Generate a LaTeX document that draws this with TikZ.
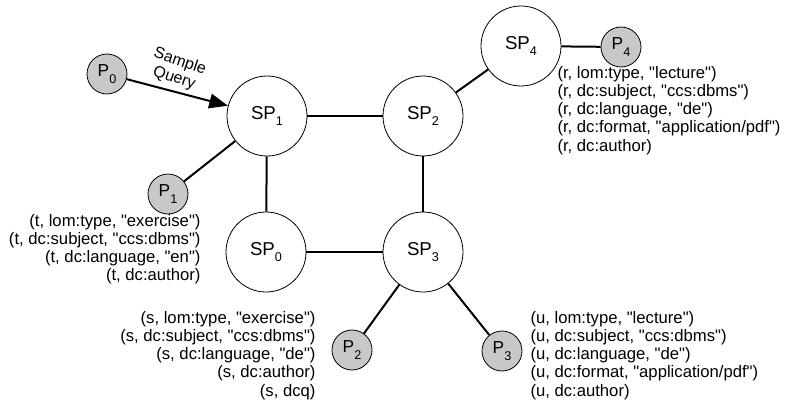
\documentclass[tikz,border=0pt]{standalone}
\usepackage{fontspec}
\setmainfont{Liberation Sans}
\newfontfamily\arialfont{Liberation Sans}
\usetikzlibrary{arrows.meta}
\definecolor{peerfill}{RGB}{200,200,200}
\newcommand{\lbl}[2]{#1\raisebox{-5pt}{\fontsize{9.5}{10}\selectfont #2}}
\tikzset{every picture/.style={line width=0.75pt}}

\begin{document}
\begin{tikzpicture}[x=0.75pt,y=0.75pt,yscale=-1,xscale=1,
  superpeer/.style={circle,draw,line width=0.6pt,fill=white,minimum size=60pt,inner sep=0pt,font=\arialfont\fontsize{14}{16}\selectfont},
  peer/.style={circle,draw,line width=0.6pt,fill=peerfill,minimum size=30pt,inner sep=0pt,font=\arialfont\fontsize{13}{15}\selectfont},
  link/.style={line width=1.5pt},
  triples/.style={inner sep=0pt,font=\arialfont\fontsize{12.5}{13.6}\selectfont}]
\useasboundingbox (0,0) rectangle (792,410);

%Super peers
\node[superpeer] (sp1) at (267,116) {\lbl{SP}{1}};
\node[superpeer] (sp2) at (423,116) {\lbl{SP}{2}};
\node[superpeer] (sp0) at (266,252) {\lbl{SP}{0}};
\node[superpeer] (sp3) at (423,252) {\lbl{SP}{3}};
\node[superpeer] (sp4) at (521,46) {\lbl{SP}{4}};

%Peers
\node[peer] (p0) at (107,74) {\lbl{P}{0}};
\node[peer] (p1) at (168,194) {\lbl{P}{1}};
\node[peer] (p2) at (352,350) {\lbl{P}{2}};
\node[peer] (p3) at (502,351) {\lbl{P}{3}};
\node[peer] (p4) at (621,47) {\lbl{P}{4}};

%Links
\draw[link] (sp1) -- (sp2);
\draw[link] (sp1) -- (sp0);
\draw[link] (sp0) -- (sp3);
\draw[link] (sp2) -- (sp3);
\draw[link] (sp2) -- (sp4);
\draw[link] (sp4) -- (p4);
\draw[link] (sp1) -- (p1);
\draw[link] (sp3) -- (p2);
\draw[link] (sp3) -- (p3);
\draw[link,-{Triangle[length=14pt,width=11pt]}] (p0) -- (sp1);

% Text Node
\node[triples,rotate=-19,align=center,font=\arialfont\fontsize{12}{13}\selectfont] (query) at (177,70) {Sample\\Query};

\node[triples,anchor=north west,align=left] (t4) at (557,66) {(r, lom:type, "lecture")\\(r, dc:subject, "ccs:dbms")\\(r, dc:language, "de")\\(r, dc:format, "application/pdf")\\(r, dc:author)};
\node[triples,anchor=north east,align=right] (t1) at (201,214) {(t, lom:type, "exercise")\\(t, dc:subject, "ccs:dbms")\\(t, dc:language, "en")\\(t, dc:author)};
\node[triples,anchor=north east,align=right] (t2) at (316,311) {(s, lom:type, "exercise")\\(s, dc:subject, "ccs:dbms")\\(s, dc:language, "de")\\(s, dc:author)\\(s, dcq)};
\node[triples,anchor=north west,align=left] (t3) at (530,311) {(u, lom:type, "lecture")\\(u, dc:subject, "ccs:dbms")\\(u, dc:language, "de")\\(u, dc:format, "application/pdf")\\(u, dc:author)};
\end{tikzpicture}
\end{document}
